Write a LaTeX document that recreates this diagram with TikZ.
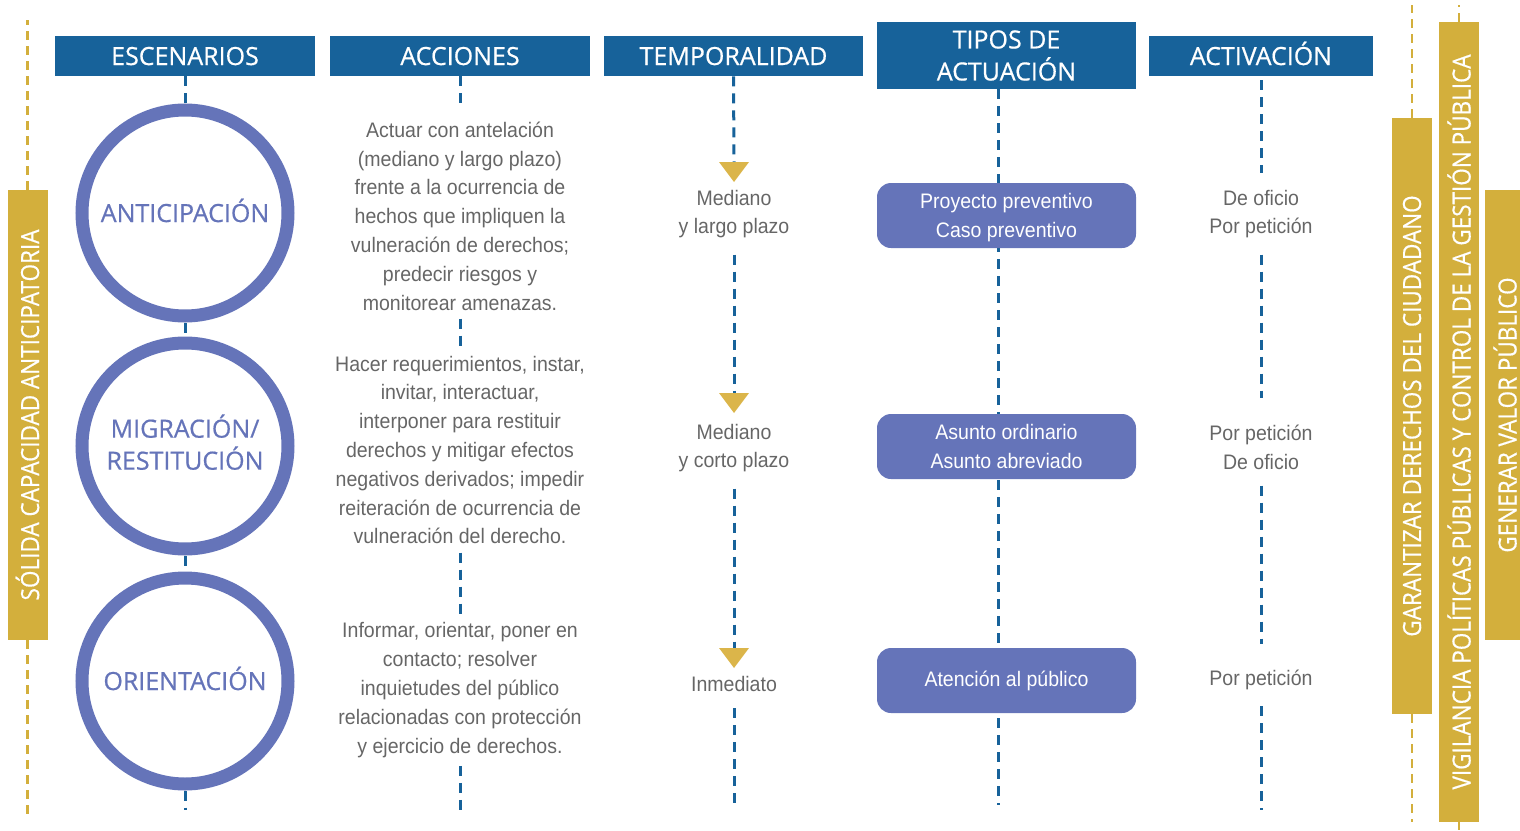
\documentclass[tikz,border=0pt]{standalone}
\usepackage{fontspec}
\setmainfont{Liberation Sans}[FakeStretch=0.93]
\newfontfamily\headfont{Open Sans}[FakeBold=0.6]
\newfontfamily\barfont{Open Sans}[FakeStretch=0.9, FakeBold=0.5]
\usetikzlibrary{positioning, calc}
\definecolor{headBlue}{HTML}{17629A}
\definecolor{ringBlue}{HTML}{6574B9}
\definecolor{barGold}{HTML}{D3AF3C}
\definecolor{triGold}{HTML}{DBB54A}
\definecolor{txtGray}{HTML}{666666}

\tikzset{
  header/.style={fill=headBlue, text=white, inner sep=0pt, align=center,
    minimum height=20pt, font=\headfont\fontsize{12.5}{16}\selectfont},
  oneLine/.style={text height=9pt, text depth=0pt},
  ring/.style={circle, draw=ringBlue, line width=6.5pt, minimum size=103pt,
    inner sep=0pt, align=center, text=ringBlue, font=\headfont\fontsize{12.5}{16}\selectfont},
  caseBox/.style={rectangle, rounded corners=7pt, fill=ringBlue, text=white,
    minimum width=129.5pt, minimum height=32.5pt, inner sep=0pt, align=center,
    font=\fontsize{10.5}{14.5}\selectfont},
  desc/.style={align=center, text=txtGray, inner xsep=0pt, inner ysep=4pt,
    font=\fontsize{10.5}{14.4}\selectfont},
  goldBar/.style={rotate=90, fill=barGold, text=white, minimum height=20pt,
    inner sep=0pt, font=\barfont\fontsize{12.5}{15}\selectfont},
  coldash/.style={draw=headBlue, line width=1.5pt, dash pattern=on 5pt off 3.5pt},
  golddash/.style={draw=barGold, line width=1.25pt, dash pattern=on 4.5pt off 3pt},
  tri/.style={fill=triGold}
}

\begin{document}
\begin{tikzpicture}[x=0.5pt, y=-0.5pt]
    \useasboundingbox (0,0) rectangle (1520,830);

    % Headers
    \node[header, oneLine, minimum width=130pt] (esc) at (185,56) {ESCENARIOS};
    \node[header, oneLine, minimum width=130pt] (acc) at (460,56) {ACCIONES};
    \node[header, oneLine, minimum width=129.5pt] (tem) at (733.5,56) {TEMPORALIDAD};
    \node[header, minimum width=129.5pt, minimum height=33.5pt] (tip) at (1006.5,55.5) {TIPOS DE\\ACTUACIÓN};
    \node[header, oneLine, minimum width=112pt] (act) at (1261,56) {ACTIVACIÓN};

    % Escenarios
    \node[ring, oneLine] (ant) at (185,213) {ANTICIPACIÓN};
    \node[ring, text depth=4pt] (mig) at (185,446) {MIGRACIÓN/\\RESTITUCIÓN};
    \node[ring, oneLine] (ori) at (185,681) {ORIENTACIÓN};
    \coordinate (c1end) at (185,810);
    \draw[coldash] (esc.south) -- (ant.north);
    \draw[coldash] (ant.south) -- (mig.north);
    \draw[coldash] (mig.south) -- (ori.north);
    \draw[coldash] (ori.south) -- (c1end);

    % Acciones
    \node[desc] (a1) at (460,216) {Actuar con antelación\\(mediano y largo plazo)\\frente a la ocurrencia de\\hechos que impliquen la\\vulneración de derechos;\\predecir riesgos y\\monitorear amenazas.};
    \node[desc] (a2) at (460,450) {Hacer requerimientos, instar,\\invitar, interactuar,\\interponer para restituir\\derechos y mitigar efectos\\negativos derivados; impedir\\reiteración de ocurrencia de\\vulneración del derecho.};
    \node[desc] (a3) at (460,690) {Informar, orientar, poner en\\contacto; resolver\\inquietudes del público\\relacionadas con protección\\y ejercicio de derechos.};
    \coordinate (c2end) at (460,810);
    \draw[coldash, shorten >=4pt] (acc.south) -- (a1.north);
    \draw[coldash] (a1.south) -- (a2.north);
    \draw[coldash] (a2.south) -- (a3.north);
    \draw[coldash] (a3.south) -- (c2end);

    % Temporalidad
    \coordinate (t1) at (734,162);
    \coordinate (t2) at (734,393);
    \coordinate (t3) at (734,648);
    \node[desc, inner ysep=8pt] (m1) at (734,214) {Mediano\\y largo plazo};
    \node[desc, inner ysep=8pt] (m2) at (734,448) {Mediano\\y corto plazo};
    \node[desc, inner ysep=8pt] (m3) at (734,684) {Inmediato};
    \coordinate (c3end) at (734,805);
    \draw[coldash] (tem.south) -- (t1);
    \draw[coldash] (m1.south) -- (t2);
    \draw[coldash] (m2.south) -- (t3);
    \draw[coldash] (m3.south) -- (c3end);
    \foreach \t in {t1,t2,t3}
        \fill[tri] ($(\t)+(-15,0)$) -- ($(\t)+(15,0)$) -- ($(\t)+(0,20)$) -- cycle;

    % Tipos de actuacion
    \coordinate (c4end) at (998,805);
    \draw[coldash] (tip.south -| c4end) -- (c4end);
    \node[caseBox, text depth=0pt] (pv) at (1006.5,215.5) {Proyecto preventivo\\Caso preventivo};
    \node[caseBox, text depth=0pt] (ao) at (1006.5,446.5) {Asunto ordinario\\Asunto abreviado};
    \node[caseBox] (ap) at (1006.5,680.5) {Atención al público};

    % Activacion
    \node[desc, inner ysep=8pt] (o1) at (1261,214) {De oficio\\Por petición};
    \node[desc, inner ysep=8pt] (o2) at (1261,447) {Por petición\\De oficio};
    \node[desc, inner ysep=8pt] (o3) at (1261,680) {Por petición};
    \coordinate (c5end) at (1261,810);
    \draw[coldash, shorten <=2pt] (act.south) -- (o1.north);
    \draw[coldash, shorten >=5pt] (o1.south) -- (o2.north);
    \draw[coldash, shorten >=5pt] (o2.south) -- (o3.north);
    \draw[coldash] (o3.south) -- (c5end);

    % Gold bars
    \node[goldBar, minimum width=225pt] (sca) at (27.5,415) {SÓLIDA CAPACIDAD ANTICIPATORIA};
    \coordinate (scaTop) at (27.5,20);
    \coordinate (scaBot) at (27.5,815);
    \draw[golddash] (sca.east) -- (scaTop);
    \draw[golddash] (sca.west) -- (scaBot);

    \node[goldBar, minimum width=298pt] (gdc) at (1412,416) {GARANTIZAR DERECHOS DEL CIUDADANO};
    \coordinate (gdcTop) at (1412,5);
    \coordinate (gdcBot) at (1412,822);
    \draw[golddash] (gdc.east) -- (gdcTop);
    \draw[golddash] (gdc.west) -- (gdcBot);

    \node[goldBar, minimum width=400pt] (vpp) at (1459,422) {VIGILANCIA POLÍTICAS PÚBLICAS Y CONTROL DE LA GESTIÓN PÚBLICA};
    \coordinate (vppTop) at (1459,5);
    \coordinate (vppBot) at (1459,830);
    \draw[golddash] (vpp.east) -- (vppTop);
    \draw[golddash] (vpp.west) -- (vppBot);

    \node[goldBar, minimum width=225pt] (gvp) at (1505,415) {GENERAR VALOR PÚBLICO};
\end{tikzpicture}
\end{document}
